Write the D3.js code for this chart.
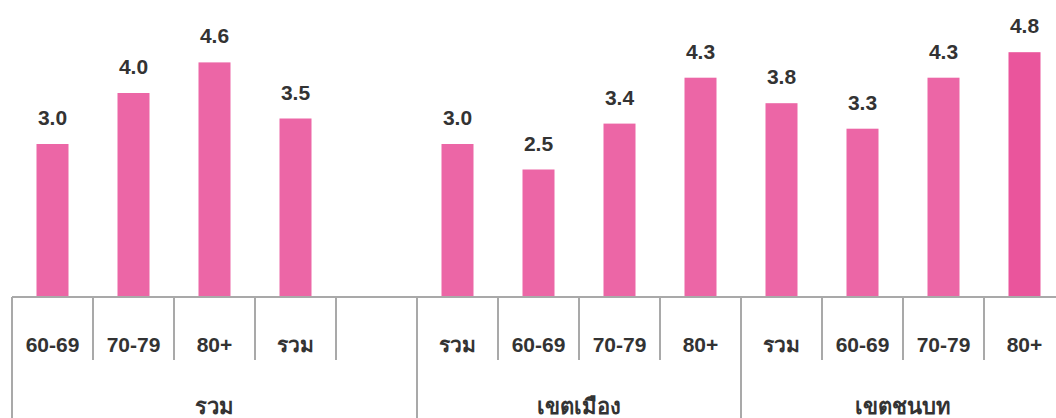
<!DOCTYPE html>
<html><head><meta charset="utf-8">
<script src="https://cdn.jsdelivr.net/npm/d3@7"></script>
<style>
html,body{margin:0;padding:0;background:#fff;}
svg{display:block;font-family:"Liberation Sans",Arial,"Noto Sans",sans-serif;}
</style></head>
<body>
<svg id="chart" width="1056" height="418"></svg>
<script>
// Data
const slotIds   = ["t1","t2","t3","t4","gap","u1","u2","u3","u4","r1","r2","r3","r4"];
const slotLabels= ["60-69","70-79","80+","รวม","","รวม","60-69","70-79","80+","รวม","60-69","70-79","80+"];
const values    = [3.0, 4.0, 4.6, 3.5, null, 3.0, 2.5, 3.4, 4.3, 3.8, 3.3, 4.3, 4.8];
const groups     = ["รวม","เขตเมือง","เขตชนบท"];
const groupStart = ["t1","u1","r1"];
const groupEnd   = ["gap","u4","r4"];

const svg = d3.select("#chart");
const axisY = 297, rowY = 360, H = 418;
const x = d3.scaleBand().domain(slotIds).range([12, 1065]).paddingInner(0).paddingOuter(0);
const y = d3.scaleLinear().domain([0, 5]).range([axisY, axisY - 255]);
const barW = 32;
const color = "#ec66a6";
const grid = "#a9a9a9";

const data = slotIds.map((id,i)=>({id, label: slotLabels[i], v: values[i]}));
const barData = data.filter(d=>d.v!=null);

// bars
svg.selectAll("rect.bar").data(barData).join("rect")
  .attr("class","bar")
  .attr("x", d=>x(d.id)+x.bandwidth()/2-barW/2)
  .attr("width", barW)
  .attr("y", d=>y(d.v))
  .attr("height", d=>axisY-y(d.v))
  .attr("fill", (d,i)=> i===barData.length-1 ? "#ea559c" : color);

// value labels
svg.selectAll("text.val").data(barData).join("text")
  .attr("class","val")
  .attr("x", d=>x(d.id)+x.bandwidth()/2)
  .attr("y", d=>y(d.v)-19)
  .attr("text-anchor","middle")
  .attr("font-size", 21).attr("font-weight","bold").attr("fill","#333")
  .text(d=>d3.format(".1f")(d.v));

// axis line
svg.append("line").attr("x1",x.range()[0]).attr("x2",x.range()[1])
  .attr("y1",axisY).attr("y2",axisY).attr("stroke",grid).attr("stroke-width",2);

// slot dividers (row 1)
svg.selectAll("line.div").data(slotIds).join("line")
  .attr("class","div")
  .attr("x1", d=>x(d)).attr("x2", d=>x(d))
  .attr("y1", axisY).attr("y2", d=> groupStart.includes(d) ? H : rowY)
  .attr("stroke",grid).attr("stroke-width",2);

// category labels
svg.selectAll("text.cat").data(data).join("text")
  .attr("class","cat")
  .attr("x", d=>x(d.id)+x.bandwidth()/2)
  .attr("y", 352)
  .attr("text-anchor","middle")
  .attr("font-size", 21).attr("font-weight","bold").attr("fill","#333")
  .text(d=>d.label);

// group labels
svg.selectAll("text.grp").data(groups).join("text")
  .attr("class","grp")
  .attr("x", (g,i)=> (x(groupStart[i]) + x(groupEnd[i]) + x.bandwidth())/2)
  .attr("y", 414)
  .attr("text-anchor","middle")
  .attr("font-size", 22).attr("font-weight","bold").attr("fill","#333")
  .text(g=>g);
</script>
</body></html>
